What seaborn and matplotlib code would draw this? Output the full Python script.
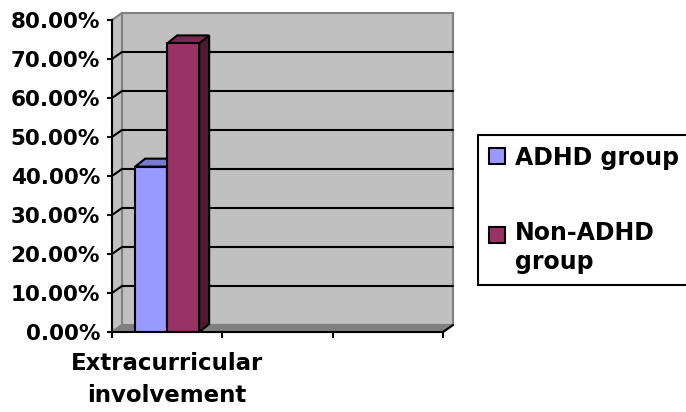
import numpy as np
import pandas as pd
import seaborn as sns
import matplotlib
matplotlib.use("Agg")
import matplotlib.pyplot as plt
from matplotlib.patches import Polygon, Rectangle, Patch
from matplotlib.legend_handler import HandlerPatch
from matplotlib.colors import to_rgb

# ---- data ----
categories = ["Extracurricular\ninvolvement"]
groups = ["ADHD group", "Non-ADHD\ngroup"]
adhd_values = [42.4]
non_adhd_values = [74.0]
y_ticks = [0, 10, 20, 30, 40, 50, 60, 70, 80]
n_slots = 3

bar_colors = ["#9999FF", "#993366"]

df = pd.DataFrame({
    "category": categories * 2,
    "group": [groups[0]] * len(categories) + [groups[1]] * len(categories),
    "value": adhd_values + non_adhd_values,
})

sns.set_theme(style="white")
plt.rcParams["font.family"] = ["DejaVu Sans"]
plt.rcParams["font.weight"] = "bold"

W, H, DPI = 686, 412, 100
fig = plt.figure(figsize=(W / DPI, H / DPI), dpi=DPI, facecolor="white")
ax = fig.add_axes([112 / W, 80 / H, 331 / W, 312 / H])
ax.set_facecolor("none")

sns.barplot(data=df, x="category", y="value", hue="group", hue_order=groups,
            palette=bar_colors, width=0.58, saturation=1, edgecolor="black",
            linewidth=1.5, legend=False, ax=ax)
bars = sorted(list(ax.patches), key=lambda p: p.get_x())

x0, x1 = -0.5, n_slots - 0.5
ax.set_xlim(x0, x1)
ax.set_ylim(y_ticks[0], y_ticks[-1])
ax.set_xlabel("")
ax.set_ylabel("")


def px_to_data(dxp, dyp):
    o = ax.transData.transform((0, 0))
    p = ax.transData.inverted().transform(o + np.array([dxp, dyp]))
    return p[0], p[1]


wdx, wdy = px_to_data(10, 7)   # depth of the walls
bdx, bdy = px_to_data(10, 8)   # depth of the bars
ymax = y_ticks[-1]

# back wall, side wall and floor
ax.add_patch(Rectangle((x0 + wdx, wdy), x1 - x0, ymax, facecolor="#c0c0c0",
                       edgecolor="#808080", lw=1.5, zorder=0.2, clip_on=False))
ax.add_patch(Polygon([(x0, 0), (x0, ymax), (x0 + wdx, ymax + wdy), (x0 + wdx, wdy)],
                     closed=True, facecolor="#c0c0c0", edgecolor="#808080",
                     lw=1.5, zorder=0.3, clip_on=False))
ax.add_patch(Polygon([(x0, 0), (x1, 0), (x1 + wdx, wdy), (x0 + wdx, wdy)],
                     closed=True, facecolor="#808080", edgecolor="#808080",
                     lw=1.5, zorder=0.3, clip_on=False))

# gridlines across side wall and back wall
for v in y_ticks[1:-1]:
    ax.plot([x0, x0 + wdx, x1 + wdx], [v, v + wdy, v + wdy], color="black",
            lw=1.5, zorder=0.5, clip_on=False, solid_joinstyle="miter")


def shade(c, f):
    r, g, b = to_rgb(c)
    return (r * f, g * f, b * f)


# 3D faces of the bars
for i, patch in enumerate(bars):
    bx, bw, bh = patch.get_x(), patch.get_width(), patch.get_height()
    col = patch.get_facecolor()
    z = 3 + i
    ax.add_patch(Polygon([(bx + bw, 0), (bx + bw, bh), (bx + bw + bdx, bh + bdy),
                          (bx + bw + bdx, bdy)], closed=True,
                         facecolor=shade(col, 0.5), edgecolor="black", lw=1.5,
                         zorder=z, clip_on=False, joinstyle="miter"))
    ax.add_patch(Polygon([(bx, bh), (bx + bw, bh), (bx + bw + bdx, bh + bdy),
                          (bx + bdx, bh + bdy)], closed=True,
                         facecolor=shade(col, 0.8), edgecolor="black", lw=1.5,
                         zorder=z, clip_on=False, joinstyle="miter"))
    patch.set_zorder(z + 0.2)
    patch.set_joinstyle("miter")

# axes lines
for s in ["top", "right"]:
    ax.spines[s].set_visible(False)
for s in ["left", "bottom"]:
    ax.spines[s].set_visible(True)
    ax.spines[s].set_color("black")
    ax.spines[s].set_linewidth(1.5)
    ax.spines[s].set_zorder(8)
ax.plot([x1, x1 + wdx], [0, wdy], color="black", lw=1.5, zorder=8, clip_on=False)

# ticks and labels
ax.set_yticks(y_ticks, labels=[f"{v:.2f}%" for v in y_ticks])
ax.tick_params(axis="y", left=True, length=3.6, width=1.5, color="black",
               pad=5, labelsize=15.5, direction="out")
ax.set_xticks(np.arange(x0, x1 + 0.01, 1.0), labels=[""] * (n_slots + 1))
ax.tick_params(axis="x", which="major", bottom=True, length=4.3, width=1.5,
               color="black", direction="out")
ax.set_xticks(range(len(categories)), labels=categories, minor=True)
ax.tick_params(axis="x", which="minor", bottom=True, length=0, pad=14.5,
               labelsize=16.5)
for lbl in ax.get_xticklabels(minor=True):
    lbl.set_linespacing(1.48)
    lbl.set_fontweight("bold")
    lbl.set_color("black")
for lbl in ax.get_yticklabels():
    lbl.set_fontweight("bold")
    lbl.set_color("black")

# legend
LEG_FS = 17
LEG_LS = 1.26


def square(legend, orig_handle, xdescent, ydescent, width, height, fontsize):
    return Rectangle((-xdescent, -ydescent), width, height)


def square_first_line(legend, orig_handle, xdescent, ydescent, width, height, fontsize):
    shift = 0.5 * 0.94 * fontsize * LEG_LS
    return Rectangle((-xdescent, -ydescent + shift), width, height)


handles = [Patch(facecolor=c, edgecolor="black", linewidth=1.5) for c in bar_colors]
leg = fig.legend(handles, groups, loc="upper left",
                 bbox_to_anchor=(478 / W, 1 - 135 / H), borderaxespad=0,
                 prop={"size": LEG_FS, "weight": "bold"},
                 handlelength=0.68, handleheight=0.68, handletextpad=0.42,
                 labelspacing=2.18, borderpad=0.45, fancybox=False,
                 frameon=True, framealpha=1,
                 handler_map={handles[0]: HandlerPatch(patch_func=square),
                              handles[1]: HandlerPatch(patch_func=square_first_line)})
leg.get_frame().set_edgecolor("black")
leg.get_frame().set_linewidth(1.5)
for t in leg.get_texts():
    t.set_linespacing(LEG_LS)
    t.set_color("black")

fig.savefig("out.png", dpi=DPI, facecolor="white")
